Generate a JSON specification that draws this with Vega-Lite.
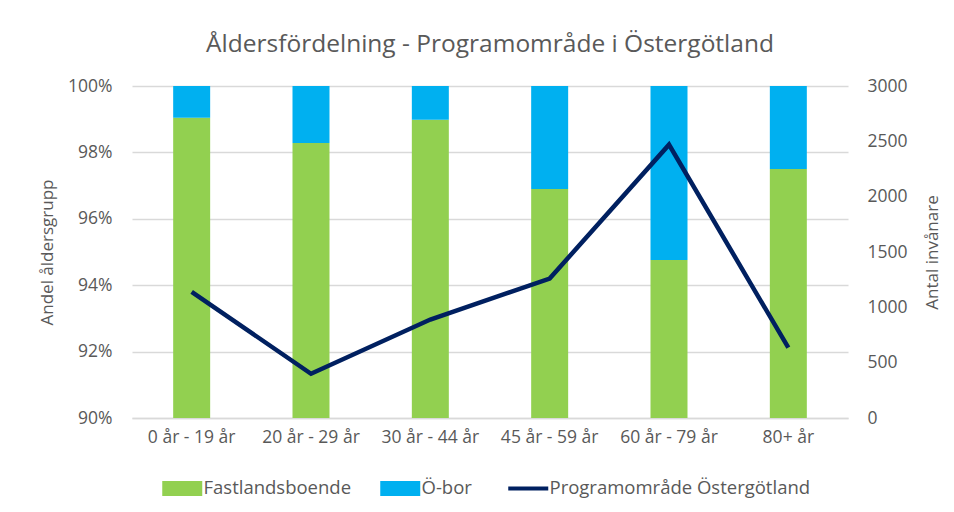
{
  "$schema": "https://vega.github.io/schema/vega-lite/v6.json",
  "autosize": {"type": "none"},
  "width": 716,
  "height": 332,
  "padding": {"left": 132, "top": 86, "right": 106, "bottom": 94},
  "background": "white",
  "config": {
    "font": "Open Sans",
    "view": {"stroke": null},
    "axis": {"labelColor": "#595959", "titleColor": "#595959", "labelFontSize": 17.5, "titleFontSize": 17, "titleFontWeight": "normal", "ticks": false, "domain": false, "gridColor": "#D9D9D9", "gridWidth": 1.3}
  },
  "title": {"text": "Åldersfördelning - Programområde i Östergötland", "fontSize": 24.5, "fontWeight": "normal", "color": "#595959", "offset": 20, "anchor": "middle"},
  "datasets": {
    "bars": [
      {"grupp": "0 år - 19 år", "serie": "Fastlandsboende", "andel": 0.9904},
      {"grupp": "0 år - 19 år", "serie": "Ö-bor", "andel": 0.0096},
      {"grupp": "20 år - 29 år", "serie": "Fastlandsboende", "andel": 0.9828},
      {"grupp": "20 år - 29 år", "serie": "Ö-bor", "andel": 0.0172},
      {"grupp": "30 år - 44 år", "serie": "Fastlandsboende", "andel": 0.9898},
      {"grupp": "30 år - 44 år", "serie": "Ö-bor", "andel": 0.0102},
      {"grupp": "45 år - 59 år", "serie": "Fastlandsboende", "andel": 0.969},
      {"grupp": "45 år - 59 år", "serie": "Ö-bor", "andel": 0.031},
      {"grupp": "60 år - 79 år", "serie": "Fastlandsboende", "andel": 0.9476},
      {"grupp": "60 år - 79 år", "serie": "Ö-bor", "andel": 0.0524},
      {"grupp": "80+ år", "serie": "Fastlandsboende", "andel": 0.975},
      {"grupp": "80+ år", "serie": "Ö-bor", "andel": 0.025}
    ],
    "linje": [
      {"grupp": "0 år - 19 år", "antal": 1140},
      {"grupp": "20 år - 29 år", "antal": 400},
      {"grupp": "30 år - 44 år", "antal": 890},
      {"grupp": "45 år - 59 år", "antal": 1260},
      {"grupp": "60 år - 79 år", "antal": 2470},
      {"grupp": "80+ år", "antal": 635}
    ]
  },
  "encoding": {
    "x": {
      "field": "grupp", "type": "nominal", "sort": null,
      "scale": {"paddingInner": 0.69, "paddingOuter": 0.345},
      "axis": {"title": null, "labelAngle": 0, "labelPadding": 10, "grid": false, "domain": true, "domainColor": "#D9D9D9", "domainWidth": 1.3}
    }
  },
  "layer": [
    {
      "data": {"name": "bars"},
      "mark": {"type": "bar", "clip": true},
      "encoding": {
        "y": {
          "field": "andel", "type": "quantitative", "stack": "zero",
          "scale": {"domain": [0.9, 1], "nice": false, "zero": false},
          "axis": {"title": "Andel åldersgrupp", "format": ".0%", "values": [0.9, 0.92, 0.94, 0.96, 0.98, 1.0], "labelPadding": 20, "titlePadding": 11, "grid": true}
        },
        "order": {"field": "serie", "sort": "ascending"},
        "color": {
          "field": "serie", "type": "nominal",
          "scale": {"domain": ["Fastlandsboende", "Ö-bor", "Programområde Östergötland"], "range": ["#92D050", "#00B0F0", "#002060"]},
          "legend": {
            "title": null, "orient": "none", "direction": "horizontal", "legendX": 41, "legendY": 393,
            "labelFontSize": 18.5, "labelColor": "#595959", "labelOffset": 12, "columnPadding": 28, "labelLimit": 500,
            "symbolSize": 400,
            "encode": {
              "symbols": {
                "update": {
                  "shape": {"signal": "datum.value === 'Programområde Östergötland' ? 'M-2,0H2' : 'M-2,-0.75H2V0.75H-2Z'"},
                  "fill": {"signal": "datum.value === 'Programområde Östergötland' ? 'transparent' : scale('color', datum.value)"},
                  "stroke": {"signal": "scale('color', datum.value)"},
                  "strokeWidth": {"signal": "datum.value === 'Programområde Östergötland' ? 4 : 0"},
                  "opacity": {"value": 1},
                  "fillOpacity": {"value": 1}
                }
              }
            }
          }
        }
      }
    },
    {
      "data": {"name": "linje"},
      "mark": {"type": "line", "strokeWidth": 4.5, "strokeJoin": "miter"},
      "encoding": {
        "x": {"field": "grupp", "type": "nominal", "sort": null, "bandPosition": 0.5},
        "y": {
          "field": "antal", "type": "quantitative",
          "scale": {"domain": [0, 3000], "nice": false},
          "axis": {"orient": "right", "title": "Antal invånare", "values": [0, 500, 1000, 1500, 2000, 2500, 3000], "format": "d", "labelPadding": 19, "titlePadding": 34, "titleAngle": 270, "grid": false}
        },
        "color": {"datum": "Programområde Östergötland"}
      }
    }
  ],
  "resolve": {"scale": {"y": "independent"}}
}
